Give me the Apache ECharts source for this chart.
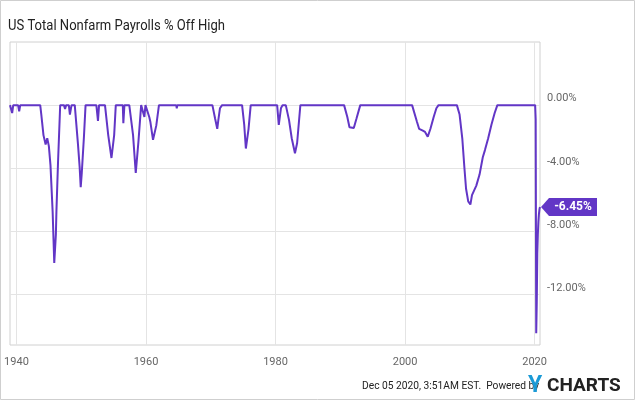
<!DOCTYPE html>
<html>
<head>
<meta charset="utf-8">
<script src="https://cdn.jsdelivr.net/npm/echarts@6/dist/echarts.min.js"></script>
<style>
html,body{margin:0;padding:0;background:#fff;}
#c{width:635px;height:400px;}
</style>
</head>
<body>
<div id="c"></div>
<script>
// Month stamps (YYYY-MM) and % off high
const dates = [
 '1939-01','1939-05','1939-07','1940-04','1940-06','1940-08','1943-09',
 '1943-11','1944-03','1944-07','1944-10','1945-01','1945-04','1945-08','1945-11','1946-02','1946-03','1946-06','1946-10',
 '1947-05','1947-07','1947-09','1948-02','1948-04','1948-07',
 '1949-01','1949-07','1949-10','1949-12','1950-02','1950-06','1950-09',
 '1952-05','1952-08','1952-10',
 '1953-09','1954-03','1954-09','1955-02','1955-05',
 '1956-06','1956-07','1956-09',
 '1957-06','1958-01','1958-06','1958-11','1959-04',
 '1959-07','1959-10','1959-12','1960-03','1960-07','1960-09','1961-02','1961-08','1962-01',
 '1964-09','1964-10','1964-11',
 '1967-04','1967-05','1967-06',
 '1970-04','1970-09','1971-01','1971-03','1971-06','1971-10',
 '1974-11','1975-03','1975-06','1975-11','1976-03',
 '1980-04','1980-07','1980-11','1981-02',
 '1981-08','1982-02','1982-07','1983-01','1983-05','1983-11',
 '1986-06','1986-07','1986-08',
 '1990-08','1991-02','1991-06','1992-02','1992-07','1993-02',
 '2001-02','2001-11','2002-03','2002-09','2003-02','2003-07','2003-12','2004-06','2004-11','2005-03',
 '2008-01','2008-06','2008-11','2009-03','2009-06','2009-10','2010-02','2010-05','2010-07','2011-01','2011-07','2012-01','2012-05','2012-11','2013-05','2013-11','2014-04',
 '2020-02','2020-03','2020-04','2020-05','2020-06','2020-07','2020-08','2020-09','2020-10','2020-11'
];
const offHigh = [
 0,-0.5,0,0,-0.4,0,0,
 -0.6,-1.9,-2.5,-2.1,-2.6,-3.8,-6.75,-10.0,-8.2,-6.75,-3.6,0,
 0,-0.25,0,0,-0.6,0,
 0,-2.5,-3.9,-5.2,-4.3,-2.0,0,
 0,-1.0,0,
 0,-1.9,-3.35,-1.9,0,
 0,-1.15,0,
 0,-1.9,-4.3,-2.3,0,
 0,-0.75,0,0,-0.75,-1.05,-2.2,-1.3,0,
 0,-0.2,0,
 0,-0.12,0,
 0,-0.85,-1.5,-0.95,-0.2,0,
 0,-1.25,-2.75,-1.5,0,
 0,-1.25,-0.2,0,
 0,-0.95,-2.1,-3.05,-2.4,0,
 0,-0.1,0,
 0,-0.75,-1.4,-1.45,-0.85,0,
 0,-1.05,-1.5,-1.6,-1.7,-2.0,-1.5,-0.75,-0.2,0,
 0,-0.6,-2.1,-4.0,-5.3,-6.1,-6.3,-5.7,-5.8,-5.1,-4.4,-3.3,-2.85,-2.1,-1.25,-0.5,0,
 0,-0.9,-14.45,-12.5,-9.4,-8.2,-7.4,-6.9,-6.6,-6.45
];
const xTicks = [1940,1960,1980,2000,2020];
const yTicks = [0,-4,-8,-12];
const titleText = 'US Total Nonfarm Payrolls % Off High';
const footerText = 'Dec 05 2020, 3:51AM EST.  Powered by';

function toYear(s){const p=s.split('-');return +p[0]+(+p[1]-1)/12;}
const seriesData = dates.map((d,i)=>[toYear(d), offHigh[i]]);
const last = seriesData[seriesData.length-1];
const purple = '#6236c6';

const chart = echarts.init(document.getElementById('c'), null, {renderer:'canvas'});
chart.setOption({
  animation:false,
  backgroundColor:'#fff',
  grid:{left:10,right:95,top:42,bottom:55,show:true,borderColor:'#d0d0d0',borderWidth:1,containLabel:false},
  xAxis:{
    type:'value',min:toYear('1939-01'),max:toYear('2020-11'),
    axisLine:{show:false},
    axisTick:{show:false,customValues:xTicks},
    axisLabel:{customValues:xTicks,color:'#666',fontFamily:'Roboto',fontSize:11,margin:12,
      formatter:v=>String(v)},
    splitLine:{show:true,lineStyle:{color:'#e4e4e4',width:1}}
  },
  yAxis:{
    type:'value',position:'right',min:-15.2,max:4,
    axisLine:{show:false},
    axisTick:{show:false,customValues:yTicks},
    axisLabel:{customValues:yTicks,color:'#666',fontFamily:'Roboto',fontSize:11,margin:7,
      verticalAlign:'bottom',padding:[0,0,1,0],
      formatter:v=>v.toFixed(2)+'%'},
    splitLine:{show:true,lineStyle:{color:'#e4e4e4',width:1}}
  },
  series:[{
    type:'line',data:seriesData,showSymbol:false,symbol:'none',
    lineStyle:{color:purple,width:2},
    itemStyle:{color:purple},
    clip:false,
    markPoint:{
      silent:true,
      symbol:'path://M0,9 L8,0 L56,0 L56,18 L8,18 Z',
      symbolSize:[56,18],
      symbolOffset:[29,0],
      itemStyle:{color:purple},
      label:{show:true,position:'inside',offset:[4,0],color:'#fff',fontWeight:'bold',fontFamily:'Roboto',fontSize:12,
        formatter:p=>p.value.toFixed(2)+'%'},
      data:[{coord:last,value:last[1]}]
    }
  }],
  graphic:[
    {type:'rect',silent:true,shape:{x:0.5,y:0.5,width:634,height:399},style:{fill:null,stroke:'#cfcfcf',lineWidth:1}},
    {type:'text',x:8,y:26,scaleX:0.87,style:{text:titleText,fill:'#222',font:'15px Roboto',align:'left',verticalAlign:'middle'}},
    {type:'text',x:362,y:386,scaleX:0.93,style:{text:footerText,fill:'#222',font:'11px Roboto',align:'left',verticalAlign:'middle'}},
    {type:'text',x:528,y:386,style:{text:'Y',fill:'#1a9ad6',font:'bold 23px Roboto',align:'left',verticalAlign:'middle'}},
    {type:'text',x:547,y:386,style:{text:'CHARTS',fill:'#222',font:'bold 19px Roboto',align:'left',verticalAlign:'middle'}}
  ]
});
</script>
</body>
</html>
